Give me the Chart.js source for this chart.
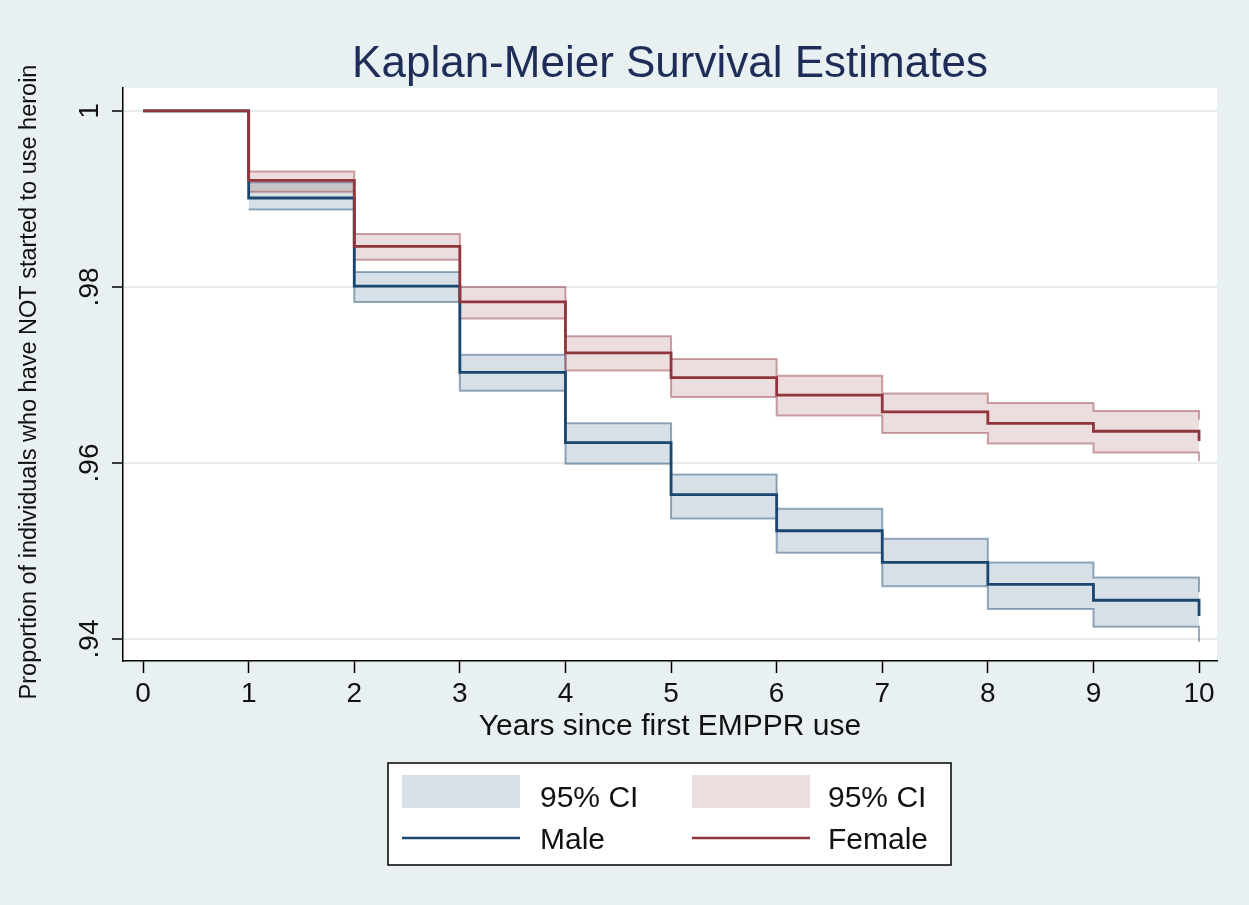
<!DOCTYPE html>
<html>
<head>
<meta charset="utf-8">
<title>Kaplan-Meier Survival Estimates</title>
<script src="https://cdn.jsdelivr.net/npm/chart.js@4.4.1/dist/chart.umd.min.js"></script>
<style>
  html, body { margin: 0; padding: 0; background: #e9f0f2; }
  #wrap { position: relative; width: 1249px; height: 905px; }
  canvas { display: block; }
</style>
</head>
<body>
<div id="wrap"><canvas id="km" width="1249" height="905"></canvas></div>
<script>
// Survival estimates by year since first EMPPR use
const years      = [0, 1, 2, 3, 4, 5, 6, 7, 8, 9, 10];
const maleSurv   = [1, 0.9901, 0.9801, 0.9703, 0.9623, 0.9564, 0.9523, 0.9487, 0.9462, 0.9444, 0.9426];
const femaleSurv = [1, 0.9921, 0.9846, 0.9783, 0.9725, 0.9697, 0.9677, 0.9658, 0.9645, 0.9636, 0.9625];

// Pointwise 95% confidence bounds (from the first event onward)
const ciYears     = [1, 2, 3, 4, 5, 6, 7, 8, 9, 10];
const maleUpper   = [0.9919, 0.9817, 0.9723, 0.9645, 0.9587, 0.9548, 0.9514, 0.9487, 0.9470, 0.9453];
const maleLower   = [0.9888, 0.9783, 0.9682, 0.9599, 0.9537, 0.9498, 0.9460, 0.9434, 0.9414, 0.9397];
const femaleUpper = [0.9931, 0.9860, 0.9800, 0.9744, 0.9718, 0.9699, 0.9679, 0.9668, 0.9659, 0.9649];
const femaleLower = [0.9908, 0.9831, 0.9764, 0.9705, 0.9675, 0.9654, 0.9634, 0.9622, 0.9612, 0.9602];

// Axis ticks and labels
const xTicks      = [0, 1, 2, 3, 4, 5, 6, 7, 8, 9, 10];
const yTicks      = [0.94, 0.96, 0.98, 1];
const yTickLabels = ['.94', '.96', '.98', '1'];

const chartTitle = 'Kaplan-Meier Survival Estimates';
const xTitle     = 'Years since first EMPPR use';
const yTitle     = 'Proportion of individuals who have NOT started to use heroin';
const ciName     = '95% CI';
const maleName   = 'Male';
const femaleName = 'Female';

const FONT = '"Liberation Sans", Arial, Helvetica, sans-serif';
const TITLE_NAVY = '#1d2d58';
const NAVY = '#1a476f';
const MAROON = '#90353b';
const MALE_FILL = 'rgba(26,71,111,0.17)';
const MALE_EDGE = 'rgba(26,71,111,0.45)';
const FEMALE_FILL = 'rgba(144,53,59,0.17)';
const FEMALE_EDGE = 'rgba(144,53,59,0.45)';

const pts = (xs, ys) => xs.map((x, i) => ({ x: x, y: ys[i] }));

// Page background plus white plot region
const backdrop = {
  id: 'backdrop',
  beforeDraw(chart) {
    const { ctx, chartArea: a } = chart;
    ctx.save();
    ctx.fillStyle = '#e9f0f2';
    ctx.fillRect(0, 0, chart.width, chart.height);
    ctx.fillStyle = '#ffffff';
    ctx.fillRect(a.left, a.top, a.right - a.left, a.bottom - a.top);
    ctx.restore();
  }
};

// Title, rotated y labels and the boxed two-column key
const annotations = {
  id: 'annotations',
  afterDraw(chart) {
    const { ctx } = chart;
    const ys = chart.scales.y;
    const a = chart.chartArea;
    ctx.save();

    ctx.fillStyle = TITLE_NAVY;
    ctx.font = '44px ' + FONT;
    ctx.textAlign = 'center';
    ctx.textBaseline = 'alphabetic';
    ctx.fillText(chartTitle, (a.left + a.right) / 2, 77);

    ctx.fillStyle = '#111';
    ctx.font = '28px ' + FONT;
    ys.ticks.forEach(t => {
      const py = ys.getPixelForValue(t.value);
      ctx.save();
      ctx.translate(98, py);
      ctx.rotate(-Math.PI / 2);
      ctx.textAlign = 'center';
      ctx.fillText(yTickLabels[yTicks.indexOf(t.value)] ?? String(t.value), 0, 0);
      ctx.restore();
    });

    ctx.save();
    ctx.font = '23.5px ' + FONT;
    ctx.translate(36, 382);
    ctx.rotate(-Math.PI / 2);
    ctx.textAlign = 'center';
    ctx.fillText(yTitle, 0, 0);
    ctx.restore();

    // key
    const box = { l: 388, t: 763, r: 951, b: 865 };
    ctx.fillStyle = '#ffffff';
    ctx.fillRect(box.l, box.t, box.r - box.l, box.b - box.t);
    ctx.strokeStyle = '#000';
    ctx.lineWidth = 1.5;
    ctx.strokeRect(box.l, box.t, box.r - box.l, box.b - box.t);

    const cols = [{ sw: 402, tx: 540 }, { sw: 692, tx: 828 }];
    const swW = 118;
    const entries = [
      { col: 0, row: 0, kind: 'band', color: MALE_FILL, label: ciName },
      { col: 1, row: 0, kind: 'band', color: FEMALE_FILL, label: ciName },
      { col: 0, row: 1, kind: 'line', color: NAVY, label: maleName },
      { col: 1, row: 1, kind: 'line', color: MAROON, label: femaleName }
    ];
    ctx.font = '30px ' + FONT;
    ctx.textAlign = 'left';
    entries.forEach(e => {
      const c = cols[e.col];
      if (e.kind === 'band') {
        ctx.fillStyle = e.color;
        ctx.fillRect(c.sw, 775, swW, 33);
      } else {
        ctx.strokeStyle = e.color;
        ctx.lineWidth = 2.5;
        ctx.beginPath();
        ctx.moveTo(c.sw, 838);
        ctx.lineTo(c.sw + swW, 838);
        ctx.stroke();
      }
      ctx.fillStyle = '#111';
      ctx.fillText(e.label, c.tx, e.row === 0 ? 807 : 849);
    });

    ctx.restore();
  }
};

const lineDefaults = { stepped: 'before', pointRadius: 0, pointHoverRadius: 0, tension: 0 };

new Chart(document.getElementById('km'), {
  type: 'line',
  data: {
    datasets: [
      { ...lineDefaults, label: femaleName, data: pts(years, femaleSurv), borderColor: MAROON, borderWidth: 2.8, fill: false, order: 0 },
      { ...lineDefaults, label: maleName, data: pts(years, maleSurv), borderColor: NAVY, borderWidth: 2.8, fill: false, order: 1 },
      { ...lineDefaults, label: ciName + ' ' + femaleName + ' lower', data: pts(ciYears, femaleLower), borderColor: FEMALE_EDGE, borderWidth: 2, fill: false, order: 2 },
      { ...lineDefaults, label: ciName + ' ' + femaleName + ' upper', data: pts(ciYears, femaleUpper), borderColor: FEMALE_EDGE, borderWidth: 2, backgroundColor: FEMALE_FILL, fill: { target: 2 }, order: 3 },
      { ...lineDefaults, label: ciName + ' ' + maleName + ' lower', data: pts(ciYears, maleLower), borderColor: MALE_EDGE, borderWidth: 2, fill: false, order: 4 },
      { ...lineDefaults, label: ciName + ' ' + maleName + ' upper', data: pts(ciYears, maleUpper), borderColor: MALE_EDGE, borderWidth: 2, backgroundColor: MALE_FILL, fill: { target: 4 }, order: 5 }
    ]
  },
  options: {
    responsive: false,
    animation: false,
    devicePixelRatio: 1,
    events: [],
    layout: { padding: { top: 88, right: 32, bottom: 160, left: 0 } },
    plugins: {
      legend: { display: false },
      tooltip: { enabled: false },
      title: { display: false },
      filler: { propagate: false }
    },
    scales: {
      x: {
        type: 'linear',
        min: -0.19,
        max: 10.17,
        afterBuildTicks: s => { s.ticks = xTicks.map(v => ({ value: v })); },
        afterFit: s => { s.height = 84; },
        border: { display: true, color: '#000', width: 1.5 },
        grid: { drawOnChartArea: false, drawTicks: true, tickLength: 12, tickColor: '#000', tickWidth: 1.5 },
        ticks: { color: '#111', font: { family: FONT, size: 28 }, padding: 4, maxRotation: 0, autoSkip: false },
        title: { display: true, text: xTitle, color: '#111', font: { family: FONT, size: 30 }, padding: { top: 0, bottom: 0 } }
      },
      y: {
        type: 'linear',
        min: 0.9375,
        max: 1.0026,
        afterBuildTicks: s => { s.ticks = yTicks.map(v => ({ value: v })); },
        afterFit: s => { s.width = 123; },
        border: { display: true, color: '#000', width: 1.5 },
        grid: { color: '#e6ecee', lineWidth: 2, drawTicks: true, tickLength: 11, tickColor: '#000', tickWidth: 1.5 },
        ticks: { display: false }
      }
    }
  },
  plugins: [backdrop, annotations]
});
</script>
</body>
</html>
